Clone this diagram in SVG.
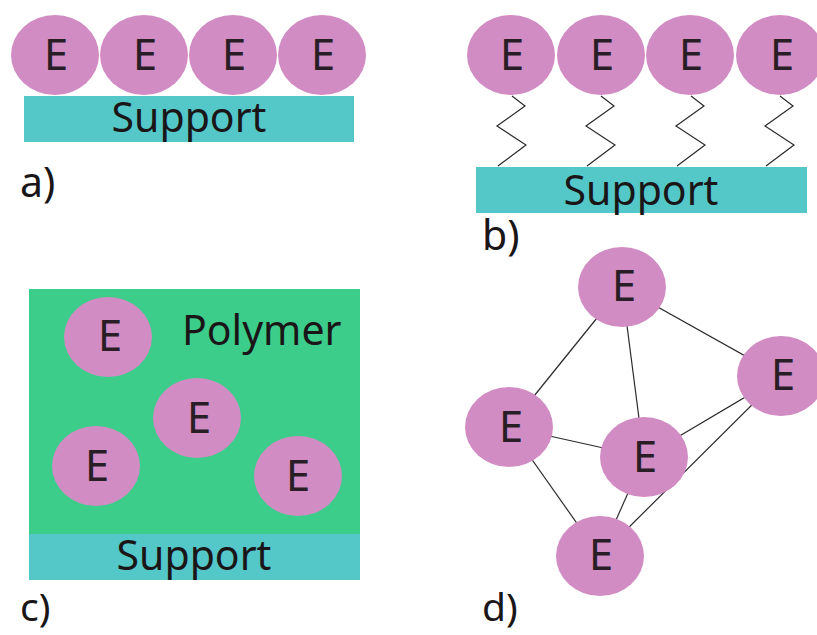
<svg xmlns="http://www.w3.org/2000/svg" width="817" height="635" viewBox="0 0 817 635">
  <style>
    .enz { fill: #d28cc4; }
    .sup { fill: #54c8c9; }
    .poly { fill: #3ccd8b; }
    .lbl { font-family: "Noto Sans", "Liberation Sans", sans-serif; font-size: 41px; fill: #1a1618; }
    .tag { font-size: 39px; }
    .e { font-family: "Noto Sans", "Liberation Sans", sans-serif; font-size: 44px; fill: #2a1e26; text-anchor: middle; }
    .mid { text-anchor: middle; }
    .link { stroke: #2b2b2b; stroke-width: 1.2; fill: none; }
    .spring { stroke: #2b2b2b; stroke-width: 1.2; fill: none; stroke-linejoin: miter; }
  </style>
  <defs>
    <polyline id="zig" points="1,96 14,106 -14,126 15,145 -13,166"/>
  </defs>
  <rect width="817" height="635" fill="#ffffff"/>

  <!-- a) enzymes adsorbed directly on support -->
  <g id="panel-a">
    <rect id="a-support" class="sup" x="24" y="96" width="330" height="46"/>
    <text class="lbl mid" x="189" y="132">Support</text>
    <g id="a-e1"><ellipse class="enz" cx="55" cy="55" rx="44" ry="40"/><text class="e" x="56" y="70">E</text></g>
    <g id="a-e2"><ellipse class="enz" cx="144" cy="55" rx="44" ry="40"/><text class="e" x="145" y="70">E</text></g>
    <g id="a-e3"><ellipse class="enz" cx="233" cy="55" rx="44" ry="40"/><text class="e" x="234" y="70">E</text></g>
    <g id="a-e4"><ellipse class="enz" cx="322" cy="55" rx="44" ry="40"/><text class="e" x="323" y="70">E</text></g>
    <text class="lbl" x="20" y="197">a)</text>
  </g>

  <!-- b) enzymes tethered to support by flexible linkers -->
  <g id="panel-b">
    <rect id="b-support" class="sup" x="476" y="167" width="331" height="46"/>
    <text class="lbl mid" x="641" y="205">Support</text>
    <g id="b-linkers">
      <use href="#zig" class="spring" x="511"/>
      <use href="#zig" class="spring" x="600"/>
      <use href="#zig" class="spring" x="690"/>
      <use href="#zig" class="spring" x="779"/>
    </g>
    <g id="b-e1"><ellipse class="enz" cx="511" cy="55" rx="44" ry="40"/><text class="e" x="512" y="70">E</text></g>
    <g id="b-e2"><ellipse class="enz" cx="601" cy="55" rx="44" ry="40"/><text class="e" x="602" y="70">E</text></g>
    <g id="b-e3"><ellipse class="enz" cx="690" cy="55" rx="44" ry="40"/><text class="e" x="691" y="70">E</text></g>
    <g id="b-e4"><ellipse class="enz" cx="780" cy="55" rx="44" ry="40"/><text class="e" x="782" y="70">E</text></g>
    <text class="lbl" x="482" y="250">b)</text>
  </g>

  <!-- c) enzymes entrapped in a polymer layer -->
  <g id="panel-c">
    <rect id="c-polymer" class="poly" x="29" y="289" width="331" height="246"/>
    <rect id="c-support" class="sup" x="29" y="534" width="331" height="46"/>
    <text class="lbl" x="182" y="345">Polymer</text>
    <text class="lbl mid" x="194" y="570">Support</text>
    <g id="c-e1"><ellipse class="enz" cx="108" cy="337" rx="44" ry="40"/><text class="e" x="110" y="351">E</text></g>
    <g id="c-e2"><ellipse class="enz" cx="197" cy="418" rx="44" ry="40"/><text class="e" x="199" y="433">E</text></g>
    <g id="c-e3"><ellipse class="enz" cx="96" cy="466" rx="44" ry="40"/><text class="e" x="97" y="481">E</text></g>
    <g id="c-e4"><ellipse class="enz" cx="298" cy="476" rx="44" ry="40"/><text class="e" x="298" y="491">E</text></g>
    <text class="lbl tag" x="20" y="621">c)</text>
  </g>

  <!-- d) cross-linked enzyme network -->
  <g id="panel-d">
    <g id="d-links">
      <line class="link" x1="622" y1="287" x2="509" y2="427"/>
      <line class="link" x1="622" y1="287" x2="781" y2="376"/>
      <line class="link" x1="622" y1="287" x2="644" y2="457"/>
      <line class="link" x1="509" y1="427" x2="644" y2="457"/>
      <line class="link" x1="644" y1="457" x2="781" y2="376"/>
      <line class="link" x1="509" y1="427" x2="600" y2="556"/>
      <line class="link" x1="644" y1="457" x2="600" y2="556"/>
      <line class="link" x1="781" y1="376" x2="600" y2="556"/>
    </g>
    <g id="d-e-top"><ellipse class="enz" cx="622" cy="287" rx="44" ry="40"/><text class="e" x="624" y="301">E</text></g>
    <g id="d-e-right"><ellipse class="enz" cx="781" cy="376" rx="44" ry="40"/><text class="e" x="783" y="390">E</text></g>
    <g id="d-e-left"><ellipse class="enz" cx="509" cy="427" rx="44" ry="40"/><text class="e" x="511" y="442">E</text></g>
    <g id="d-e-center"><ellipse class="enz" cx="644" cy="457" rx="44" ry="40"/><text class="e" x="645" y="472">E</text></g>
    <g id="d-e-bottom"><ellipse class="enz" cx="600" cy="556" rx="44" ry="40"/><text class="e" x="601" y="570">E</text></g>
    <text class="lbl tag" x="482" y="621">d)</text>
  </g>
</svg>
